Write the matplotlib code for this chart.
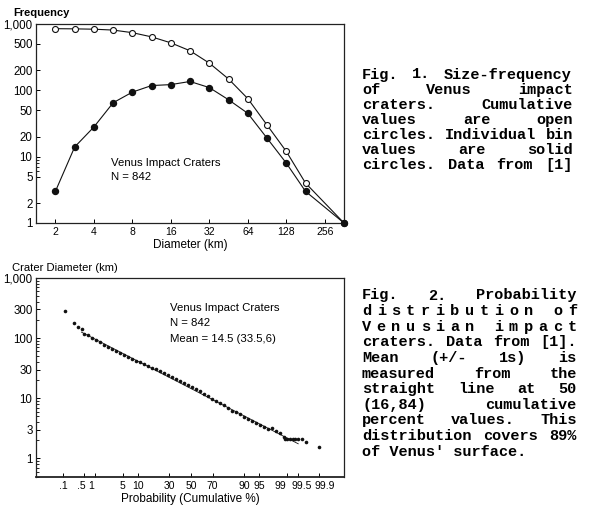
import numpy as np
import matplotlib
matplotlib.use("Agg")
import matplotlib.pyplot as plt
import matplotlib.transforms as mtransforms
from matplotlib.ticker import FixedLocator, FixedFormatter, NullFormatter
from statistics import NormalDist

plt.rcParams['font.family'] = ['Liberation Sans', 'DejaVu Sans']

# 图1：大小-频率数据
diam_bins = [2, 2.83, 4, 5.66, 8, 11.3, 16, 22.6, 32, 45.3, 64, 90.5, 128, 181, 362]
cumulative = [850, 845, 835, 810, 740, 640, 520, 395, 257, 148, 75, 30, 12, 4, 1]
individual = [3, 14, 28, 65, 94, 118, 122, 136, 110, 72, 45, 19, 8, 3, 1]
freq_ticks = [1, 2, 5, 10, 20, 50, 100, 200, 500, 1000]
freq_labels = ['1', '2', '5', '10', '20', '50', '100', '200', '500', '1,000']
diam_ticks = [2, 4, 8, 16, 32, 64, 128, 256]

# 图2：概率分布（累计百分比, 直径km）
prob = [0.12, 0.23, 0.33, 0.43,
        0.49, 0.64, 0.84, 1.09, 1.40, 1.78, 2.25, 2.82, 3.50, 4.32,
        5.28, 6.40, 7.71, 9.19, 10.9, 12.8, 14.9, 17.3, 19.9, 22.7,
        25.7, 28.9, 32.3, 35.9, 39.5, 43.3, 47.1, 51.0, 54.8, 58.6,
        62.3, 65.9, 69.4, 72.7, 75.8, 78.7, 81.4, 83.9, 86.1, 88.2,
        90.0, 91.6, 93.0, 94.2, 95.2, 96.1, 96.9, 97.5, 98.0, 98.4, 98.76,
        98.85, 99.0, 99.16, 99.3, 99.4, 99.51, 99.62, 99.72, 99.9]
crater_diam = [285, 178, 156, 143,
               118, 112, 102, 94, 87, 76, 71, 65.5, 60.6, 56,
               53, 49, 45.5, 42.2, 39.8, 36.9, 34.8, 32.3, 30.5, 28.8,
               26.2, 24.3, 22.5, 20.8, 19.3, 17.9, 16.6, 15.3, 14.2, 13.1,
               12.0, 10.9, 9.9, 9.0, 8.3, 7.6, 6.9, 6.25, 5.8, 5.4,
               4.97, 4.6, 4.2, 3.88, 3.66, 3.27, 3.08, 3.15, 2.91, 2.60, 2.23,
               2.12, 2.12, 2.12, 2.12, 2.12, 2.12, 2.12, 1.86, 1.56]
fit_prob = [0.41, 99.52]
fit_diam = [126, 1.75]
prob_ticks = [0.1, 0.5, 1, 5, 10, 30, 50, 70, 90, 95, 99, 99.5, 99.9]
prob_labels = ['.1', '.5', '1', '5', '10', '30', '50', '70', '90', '95', '99', '99.5', '99.9']
cd_ticks = [1, 3, 10, 30, 100, 300, 1000]
cd_labels = ['1', '3', '10', '30', '100', '300', '1,000']

cap1 = ["Fig. 1. Size-frequency",
        "of Venus impact",
        "craters. Cumulative",
        "values are open",
        "circles. Individual bin",
        "values are solid",
        "circles. Data from [1]"]
cap2 = ["Fig. 2. Probability",
        "distribution of",
        "Venusian impact",
        "craters. Data from [1].",
        "Mean (+/- 1s) is",
        "measured from the",
        "straight line at 50",
        "(16,84) cumulative",
        "percent values. This",
        "distribution covers 89%",
        "of Venus' surface."]

W, H = 600, 513
fig = plt.figure(figsize=(W / 100, H / 100), dpi=100)


def px(x, y):
    return x / W, 1 - y / H


def frame(ax):
    for s in ax.spines.values():
        s.set_linewidth(0.9)
        s.set_color('#222222')
    ax.tick_params(which='both', direction='in', pad=3)
    ax.tick_params(axis='x', labelsize=7.5)
    ax.tick_params(axis='y', labelsize=8.3, pad=2.5)
    ax.tick_params(which='major', length=3, width=0.7)
    ax.tick_params(which='minor', length=2, width=0.6)


# ---- 上图 ----
ax1 = fig.add_axes([36 / W, 1 - 223 / H, 308 / W, 199 / H])
ax1.set_xscale('log', base=2)
ax1.set_yscale('log')
ax1.plot(diam_bins, cumulative, '-o', color='#111111', lw=0.8, ms=4.3,
         mfc='white', mec='#111111', mew=0.8, clip_on=False, zorder=3)
ax1.plot(diam_bins, individual, '-o', color='#111111', lw=0.8, ms=4.3,
         mfc='#111111', mec='#111111', clip_on=False, zorder=3)
ax1.set_xlim(1.41, 362)
ax1.set_ylim(1, 1000)
ax1.xaxis.set_major_locator(FixedLocator(diam_ticks))
ax1.xaxis.set_major_formatter(FixedFormatter([str(d) for d in diam_ticks]))
ax1.xaxis.set_minor_locator(FixedLocator([]))
ax1.yaxis.set_major_locator(FixedLocator(freq_ticks))
ax1.yaxis.set_major_formatter(FixedFormatter(freq_labels))
ax1.yaxis.set_minor_locator(FixedLocator([6, 7, 8, 9]))
ax1.yaxis.set_minor_formatter(NullFormatter())
frame(ax1)
ax1.set_xlabel("Diameter (km)", fontsize=8.5, labelpad=1.5)
fig.text(*px(13, 13.5), "Frequency", fontsize=8, weight='bold', va='center')
fig.text(*px(111, 162.7), "Venus Impact Craters", fontsize=8.2, va='center')
fig.text(*px(111, 176.7), "N = 842", fontsize=8.2, va='center')

# ---- 下图：正态概率坐标 ----
nd = NormalDist()
_ppf = np.vectorize(lambda v: nd.inv_cdf(v / 100.0), otypes=[float])
_cdf = np.vectorize(lambda v: nd.cdf(v) * 100.0, otypes=[float])


def fwd(p):
    return _ppf(np.clip(np.asarray(p, dtype=float), 1e-7, 100 - 1e-7))


def inv(z):
    return _cdf(np.asarray(z, dtype=float))


ax2 = fig.add_axes([36 / W, 1 - 476.5 / H, 308 / W, 198.5 / H])
ax2.set_xscale('function', functions=(fwd, inv))
ax2.set_yscale('log')
ax2.plot(fit_prob, fit_diam, '-', color='#111111', lw=0.6)
ax2.plot(prob, crater_diam, 'o', color='#111111', ms=2.6, mew=0)
ax2.set_xlim(0.0092, 99.989)
ax2.set_ylim(0.5, 1000)
ax2.xaxis.set_major_locator(FixedLocator(prob_ticks))
ax2.xaxis.set_major_formatter(FixedFormatter(prob_labels))
ax2.xaxis.set_minor_locator(FixedLocator([]))
ax2.yaxis.set_major_locator(FixedLocator(cd_ticks))
ax2.yaxis.set_major_formatter(FixedFormatter(cd_labels))
frame(ax2)
ax2.spines['bottom'].set_linewidth(1.3)
ax2.set_xlabel("Probability (Cumulative %)", fontsize=8.5, labelpad=1.5)

# 右端标签挤在一起，稍微错开
label_shift = {'.5': -3, '1': -3, '99': -6.5, '99.5': 4.5, '99.9': 5.5}
for lab in ax2.get_xticklabels():
    dx = label_shift.get(lab.get_text(), 0)
    if dx:
        lab.set_transform(lab.get_transform() +
                          mtransforms.ScaledTranslation(dx / 100, 0, fig.dpi_scale_trans))

fig.text(*px(12, 267.7), "Crater Diameter (km)", fontsize=8.1, va='center')
fig.text(*px(170, 307.7), "Venus Impact Craters", fontsize=8.2, va='center')
fig.text(*px(170, 323.3), "N = 842", fontsize=8.2, va='center')
fig.text(*px(170, 338.5), "Mean = 14.5 (33.5,6)", fontsize=8.2, va='center')

# ---- 右侧说明文字（等宽字体，两端对齐）----
CW = 9.2  # 每个字符宽度(像素)


def caption(lines, x0, y0, width, dy, spread=(), free_last=False):
    for i, line in enumerate(lines):
        y = y0 + i * dy
        if free_last and i == len(lines) - 1:
            tokens = [line]
        elif i in spread:
            tokens = list(line)
        else:
            tokens = line.split()
        natural = sum(len(t) for t in tokens) * CW
        gap = (width - natural) / (len(tokens) - 1) if len(tokens) > 1 else 0
        x = x0
        for t in tokens:
            fig.text(*px(x, y), t, family=['Liberation Mono', 'DejaVu Sans Mono'],
                     fontsize=11, weight='bold', va='center', ha='left')
            x += len(t) * CW + gap


caption(cap1, 362, 74.5, 211, 15.1)
caption(cap2, 362, 295.5, 215, 15.6, spread=(1, 2), free_last=True)

fig.savefig("out.png", dpi=100)
